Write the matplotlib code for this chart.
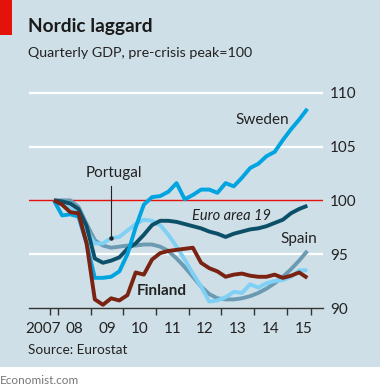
import matplotlib
matplotlib.use("Agg")
import matplotlib.pyplot as plt
import numpy as np

plt.rcParams['font.family'] = ['Lato', 'DejaVu Sans']

# Quarterly data 2007Q4 .. 2015Q3 (index, pre-crisis peak = 100)
quarters = np.arange(32)
sweden = [100.0, 98.6, 98.7, 98.5, 96.0, 92.8, 92.8, 92.9, 93.4, 95.0, 97.5, 99.6,
          100.3, 100.4, 100.8, 101.6, 100.1, 100.5, 101.0, 101.0, 100.7, 101.6, 101.3, 102.1,
          103.0, 103.4, 104.1, 104.5, 105.6, 106.6, 107.5, 108.5]
euro_area = [100.0, 99.9, 99.7, 99.2, 97.6, 94.6, 94.2, 94.4, 94.7, 95.5, 96.0, 96.8,
             97.7, 98.1, 98.1, 98.0, 97.8, 97.6, 97.4, 97.1, 96.9, 96.6, 96.9, 97.1,
             97.3, 97.4, 97.6, 97.9, 98.2, 98.8, 99.2, 99.5]
portugal = [100.0, 99.8, 99.2, 98.8, 97.2, 96.0, 96.0, 96.5, 96.6, 97.2, 97.8, 98.2,
            98.1, 97.7, 96.8, 95.7, 94.5, 93.2, 92.0, 90.6, 90.7, 91.0, 91.5, 91.4,
            92.2, 91.9, 92.3, 92.5, 92.6, 92.9, 93.5, 93.5]
spain = [100.0, 100.0, 100.0, 99.4, 97.8, 96.3, 95.8, 95.6, 95.7, 95.8, 95.8, 95.9,
         95.9, 95.7, 95.3, 94.6, 93.8, 92.9, 92.0, 91.3, 90.9, 90.8, 90.8, 90.9,
         91.1, 91.4, 91.8, 92.3, 92.9, 93.6, 94.4, 95.3]
finland = [100.0, 99.6, 98.9, 98.8, 96.0, 90.8, 90.3, 90.9, 90.7, 91.2, 93.3, 93.1,
           94.5, 95.1, 95.3, 95.4, 95.5, 95.6, 94.2, 93.7, 93.4, 92.9, 93.1, 93.2,
           93.0, 92.9, 92.9, 93.1, 92.8, 93.0, 93.3, 92.8]

year_labels = ['2007', '08', '09', '10', '11', '12', '13', '14', '15']
y_ticks = [90, 95, 100, 105, 110]

t = 2007.875 + quarters / 4.0

BG = '#cfdfe7'
W, H = 380, 391
fig = plt.figure(figsize=(W / 100, H / 100), dpi=100)
fig.patch.set_facecolor('white')

# background panel
fig.patches.append(plt.Rectangle((0, 1 - 367 / H), 1, 367 / H, transform=fig.transFigure,
                                 facecolor=BG, edgecolor='none', zorder=-10))
# red accent
fig.patches.append(plt.Rectangle((0, 1 - 35 / H), 12 / W, 35 / H, transform=fig.transFigure,
                                 facecolor='#e3120b', edgecolor='none', zorder=-5))

left, right = 29, 323
top, bottom = 86, 308
ax = fig.add_axes([left / W, 1 - bottom / H, (right - left) / W, (bottom - top) / H])
ax.set_zorder(5)
ax.set_facecolor('none')

px_per_year = 32.7
x0 = 2008 - (58 - left) / px_per_year
x1 = 2008 + (right - 58) / px_per_year
ax.set_xlim(x0, x1)
ppu = (308 - 92.7) / 20.0
ax.set_ylim(90, 90 + (bottom - top) / ppu)

for s in ['top', 'left', 'right']:
    ax.spines[s].set_visible(False)
ax.spines['bottom'].set_color('#333333')
ax.spines['bottom'].set_linewidth(1.0)

for v in [95, 105, 110]:
    ax.axhline(v, color='white', lw=1.6, zorder=1)
ax.axhline(100, color='#e3120b', lw=1.0, zorder=1)

ax.yaxis.tick_right()
ax.set_yticks(y_ticks)
ax.set_yticklabels([str(v) for v in y_ticks], fontsize=11, color='#222222')
ax.tick_params(axis='y', length=0, pad=5)

tick_pos = [2007.75] + list(range(2008, 2016)) + [2015.75]
ax.set_xticks(tick_pos)
ax.set_xticklabels([''] * len(tick_pos))
ax.tick_params(axis='x', length=5, width=1, color='#333333', direction='out')
label_pos = [2007.55] + [y + 0.5 for y in range(2008, 2016)]
for xp, lab in zip(label_pos, year_labels):
    ax.text(xp, -0.095, lab, transform=ax.get_xaxis_transform(), ha='center', va='center',
            fontsize=11, color='#222222')

lw = 2.8
ax.plot(t, spain, color='#6b9bb3', lw=lw, zorder=3, solid_capstyle='butt')
ax.plot(t, portugal, color='#7fd0f5', lw=lw, zorder=4, solid_capstyle='butt')
ax.plot(t, euro_area, color='#0b5068', lw=lw, zorder=5, solid_capstyle='butt')
ax.plot(t, sweden, color='#00a4e0', lw=lw, zorder=6, solid_capstyle='butt')
ax.plot(t, finland, color='#7a2313', lw=lw, zorder=7, solid_capstyle='butt')

# annotations
ax.text(2014.24, 107.5, 'Sweden', ha='center', va='center', fontsize=11, color='#222222')
ax.text(2015.37, 96.4, 'Spain', ha='center', va='center', fontsize=11, color='#222222')
ax.text(2013.32, 98.5, 'Euro area 19', ha='center', va='center', fontsize=10.5,
        style='italic', color='#222222')
ax.text(2011.18, 91.6, 'Finland', ha='center', va='center', fontsize=11,
        fontweight='bold', color='#222222')
ax.text(2009.71, 102.5, 'Portugal', ha='center', va='center', fontsize=11, color='#222222')
ax.plot([t[7], t[7]], [101.3, portugal[7]], color='#222222', lw=0.8, zorder=8)
ax.plot([t[7]], [portugal[7]], 'o', color='#222222', ms=2.2, zorder=8)

fig.text(28 / W, 1 - 32 / H, 'Nordic laggard', fontsize=13.8, fontweight='bold',
         color='#1a1a1a', va='baseline', ha='left')
fig.text(28 / W, 1 - 57 / H, 'Quarterly GDP, pre-crisis peak=100', fontsize=10.3,
         color='#222222', va='baseline', ha='left')
fig.text(28 / W, 1 - 354 / H, 'Source: Eurostat', fontsize=9.8, color='#222222',
         va='baseline', ha='left')
fig.text(0 / W, 1 - 384 / H, 'Economist.com', fontsize=8.5, color='#777777',
         va='baseline', ha='left')

fig.savefig('out.png', dpi=100, facecolor='white')
